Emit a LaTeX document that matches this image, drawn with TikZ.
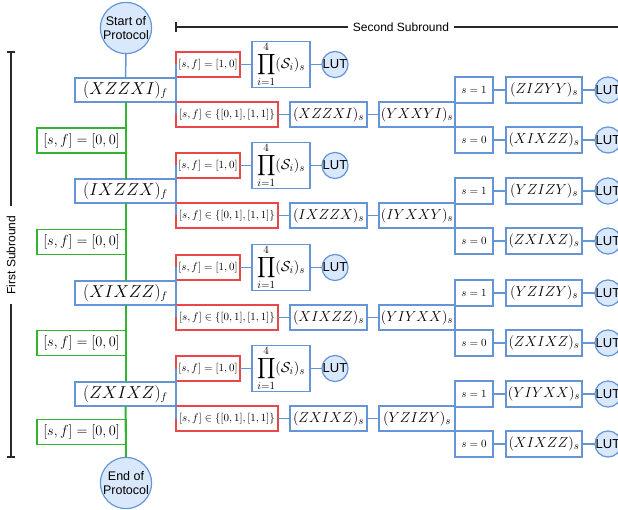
\documentclass[tikz,border=0pt]{standalone}
\usepackage{amsmath}
\usepackage{fontspec}
\setsansfont{Liberation Sans}
\definecolor{bl}{RGB}{100,150,215}
\definecolor{blfill}{RGB}{218,232,252}
\definecolor{rd}{RGB}{234,72,72}
\definecolor{gr}{RGB}{50,180,50}
\definecolor{brk}{RGB}{40,40,40}
\tikzset{
  every node/.style={inner sep=0pt, outer sep=0pt},
  wire/.style={draw=bl, line width=1.5pt},
  gwire/.style={draw=gr, line width=2pt},
  bracket/.style={draw=brk, line width=1.2pt},
  fbox/.style={draw=bl, line width=1.2pt, minimum width=101pt, minimum height=24pt,
    font=\fontsize{16}{19}\selectfont},
  sbox/.style={draw=bl, line width=1.2pt, minimum height=25pt,
    font=\fontsize{15}{18}\selectfont},
  bitbox/.style={draw=bl, line width=1.2pt, minimum width=38pt, minimum height=26pt,
    font=\fontsize{10.5}{12}\selectfont},
  prodbox/.style={draw=bl, line width=1.2pt, minimum width=58pt, minimum height=45pt,
    font=\fontsize{15}{18}\selectfont},
  rbox/.style={draw=rd, line width=1.2pt, minimum height=25pt,
    font=\fontsize{11}{13}\selectfont},
  gbox/.style={draw=gr, line width=1.2pt, minimum width=89pt, minimum height=25pt,
    font=\fontsize{14.5}{17}\selectfont},
  terminal/.style={circle, draw=bl, fill=blfill, line width=1.2pt, minimum size=51pt,
    align=center, font=\sffamily\fontsize{12.5}{14}\selectfont},
  lut/.style={circle, draw=bl, fill=blfill, line width=1.2pt, minimum size=26pt,
    font=\sffamily\fontsize{13}{15}\selectfont},
  sublabel/.style={font=\sffamily\fontsize{12}{14}\selectfont},
}
\begin{document}
\begin{tikzpicture}[x=1pt, y=-1pt]
\useasboundingbox (0,0) rectangle (618,510);
\clip (0,0) rectangle (618,510);

% protocol start and end
\node[terminal] (start) at (126,28) {Start of\\Protocol};
\node[terminal] (end) at (126,483) {End of\\Protocol};

% one block per round of the first subround
\foreach \k/\yc/\fa/\sb/\ra/\rb in {
    1/90/XZZXI/YXXYI/ZIZYY/XIXZZ,
    2/191/IXZZX/IYXXY/YZIZY/ZXIXZ,
    3/293/XIXZZ/YIYXX/YZIZY/ZXIXZ,
    4/394/ZXIXZ/YZIZY/YIYXX/XIXZZ} {
  \node[fbox] (f\k) at (125.5,\yc) {$(\fa)_f$};
  \node[rbox, minimum width=64pt] (ra\k) at (208,\yc-25.5) {$[s,f]=[1,0]$};
  \node[rbox, minimum width=102pt] (rb\k) at (227,\yc+24.5) {$[s,f]\in\{[0,1],[1,1]\}$};
  \node[prodbox] (pr\k) at (281,\yc-25.5) {$\displaystyle\prod_{i=1}^{4}(\mathcal{S}_i)_s$};
  \node[lut] (la\k) at (335,\yc-25.5) {LUT};
  \node[sbox, minimum width=77pt] (sa\k) at (328.5,\yc+24.5) {$(\fa)_s$};
  \node[sbox, minimum width=76pt] (sb\k) at (417,\yc+24.5) {$(\sb)_s$};
  \node[bitbox] (so\k) at (474,\yc) {$s=1$};
  \node[bitbox] (sz\k) at (474,\yc+50) {$s=0$};
  \node[sbox, minimum width=76pt, minimum height=26pt] (ta\k) at (544,\yc) {$(\ra)_s$};
  \node[sbox, minimum width=76pt, minimum height=26pt] (tb\k) at (544,\yc+50) {$(\rb)_s$};
  \node[lut] (lb\k) at (608,\yc) {LUT};
  \node[lut] (lc\k) at (608,\yc+50) {LUT};
  % connectors inside the block
  \draw[wire] (f\k.north east) -- (ra\k.west);
  \draw[wire] (f\k.south east) -- (rb\k.west);
  \draw[wire] (ra\k.east) -- (pr\k.west);
  \draw[wire] (pr\k.east) -- (la\k.west);
  \draw[wire] (rb\k.east) -- (sa\k.west);
  \draw[wire] (sa\k.east) -- (sb\k.west);
  \draw[wire] (sb\k.north east) -- (so\k.west);
  \draw[wire] (sb\k.south east) -- (sz\k.west);
  \draw[wire] (so\k.east) -- (ta\k.west);
  \draw[wire] (ta\k.east) -- (lb\k.west);
  \draw[wire] (sz\k.east) -- (tb\k.west);
  \draw[wire] (tb\k.east) -- (lc\k.west);
}

% outcome [0,0] boxes on the main line
\node[gbox] (g1) at (81.5,140.5) {$[s,f]=[0,0]$};
\node[gbox] (g2) at (81.5,242) {$[s,f]=[0,0]$};
\node[gbox] (g3) at (81.5,343) {$[s,f]=[0,0]$};
\node[gbox] (g4) at (81.5,432) {$[s,f]=[0,0]$};

% main line
\draw[wire] (start.south) -- (f1.north);
\draw[gwire] (f1.south) -- (f2.north);
\draw[gwire] (f2.south) -- (f3.north);
\draw[gwire] (f3.south) -- (f4.north);
\draw[gwire] (f4.south) -- (end.north);

% subround brackets
\coordinate (ss0) at (176,27);
\coordinate (ss1) at (620,27);
\node[sublabel, inner xsep=5pt] (ssl) at (401,27) {Second Subround};
\draw[bracket] (ss0) -- (ssl.west);
\draw[bracket] (ssl.east) -- (ss1);
\draw[bracket] ([yshift=5pt]ss0) -- ([yshift=-5pt]ss0);

\coordinate (fs0) at (11,52);
\coordinate (fs1) at (11,457);
\node[sublabel, rotate=90, inner xsep=10pt] (fsl) at (11,255) {First Subround};
\draw[bracket] (fs0) -- (fsl.east);
\draw[bracket] (fsl.west) -- (fs1);
\draw[bracket] ([xshift=-4pt]fs0) -- ([xshift=4pt]fs0);
\draw[bracket] ([xshift=-4pt]fs1) -- ([xshift=4pt]fs1);
\end{tikzpicture}
\end{document}
